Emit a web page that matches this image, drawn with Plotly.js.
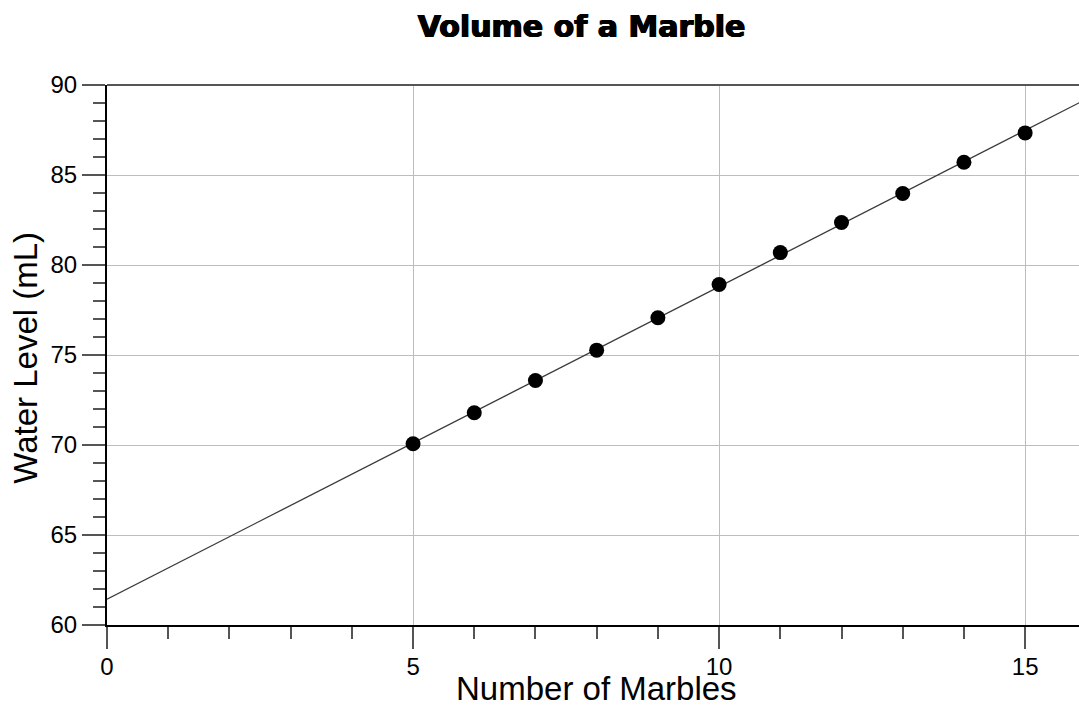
<!DOCTYPE html>
<html>
<head>
<meta charset="utf-8">
<script src="https://cdn.plot.ly/plotly-3.0.1.min.js"></script>
<style>
  html, body { margin: 0; padding: 0; background: #fff; }
  #chart { width: 1079px; height: 709px; }
</style>
</head>
<body>
<div id="chart"></div>
<script>
// Marbles dropped into the cylinder and the water level read after each
const marbles = [5, 6, 7, 8, 9, 10, 11, 12, 13, 14, 15];
const waterLevel = [70.07, 71.79, 73.58, 75.27, 77.07, 78.92, 80.69, 82.36, 83.97, 85.71, 87.34];

const xTickVals = [0, 5, 10, 15];
const yTickVals = [60, 65, 70, 75, 80, 85, 90];

// Least-squares line through the measurements
function linearFit(xs, ys) {
  const n = xs.length;
  const mx = xs.reduce((a, b) => a + b, 0) / n;
  const my = ys.reduce((a, b) => a + b, 0) / n;
  let sxy = 0, sxx = 0;
  for (let i = 0; i < n; i++) {
    sxy += (xs[i] - mx) * (ys[i] - my);
    sxx += (xs[i] - mx) * (xs[i] - mx);
  }
  const slope = sxy / sxx;
  return { slope: slope, intercept: my - slope * mx };
}
const fit = linearFit(marbles, waterLevel);
const fitX = [0, 17];
const fitY = fitX.map(x => fit.intercept + fit.slope * x);

const tickFont = { family: 'Liberation Sans, Arial, sans-serif', size: 24, color: '#000' };
const titleFont = { family: 'Liberation Sans, Arial, sans-serif', size: 33, color: '#000' };

const traces = [
  {
    x: fitX, y: fitY, mode: 'lines', type: 'scatter',
    line: { color: '#3a3a3a', width: 1.3 },
    hoverinfo: 'skip', showlegend: false
  },
  {
    x: marbles, y: waterLevel, mode: 'markers', type: 'scatter',
    marker: { color: '#000', size: 15, line: { width: 0 } },
    showlegend: false
  }
];

const layout = {
  width: 1079, height: 709,
  paper_bgcolor: '#fff', plot_bgcolor: '#fff',
  margin: { l: 107, r: 0, t: 85, b: 84, pad: 0 },
  title: {
    text: 'Volume of a Marble',
    font: { family: 'DejaVu Sans, sans-serif', size: 30, color: '#000', weight: 'bold',
            shadow: '0.7px 0 0 #000, -0.7px 0 0 #000, 0 0.4px 0 #000' },
    xref: 'container', x: 0.539, xanchor: 'center',
    yref: 'container', y: 0.963, yanchor: 'middle'
  },
  xaxis: {
    range: [0, 15.88],
    tickmode: 'array', tickvals: xTickVals,
    ticks: 'outside', ticklen: 22, tickwidth: 2, tickcolor: '#555',
    tickfont: tickFont, ticklabelstandoff: -3,
    showline: true, linecolor: '#000', linewidth: 2,
    showgrid: true, gridcolor: '#bdbdbd', gridwidth: 1,
    zeroline: false, automargin: false,
    minor: { dtick: 1, tick0: 0, ticks: 'outside', ticklen: 12, tickwidth: 2, tickcolor: '#555', showgrid: false }
  },
  yaxis: {
    range: [60, 90],
    tickmode: 'array', tickvals: yTickVals,
    ticks: 'outside', ticklen: 23, tickwidth: 2, tickcolor: '#555',
    tickfont: tickFont,
    showline: true, linecolor: '#000', linewidth: 2,
    showgrid: true, gridcolor: '#bdbdbd', gridwidth: 1,
    zeroline: false, automargin: false,
    minor: { dtick: 1, tick0: 60, ticks: 'outside', ticklen: 12, tickwidth: 2, tickcolor: '#555', showgrid: false }
  },
  annotations: [
    { text: 'Number of Marbles', font: titleFont, showarrow: false, borderpad: 0,
      xref: 'paper', yref: 'paper', x: 0.504, y: 0, xanchor: 'center', yanchor: 'bottom', yshift: -83 },
    { text: 'Water Level (mL)', font: titleFont, showarrow: false, textangle: -90,
      xref: 'paper', yref: 'paper', x: -0.0833, y: 0.495, xanchor: 'center', yanchor: 'middle' }
  ],
  shapes: [
    { type: 'line', xref: 'paper', yref: 'paper', x0: 0, x1: 1, y0: 1, y1: 1,
      line: { color: '#555', width: 2 } }
  ]
};

Plotly.newPlot('chart', traces, layout, { displayModeBar: false, staticPlot: true });
</script>
</body>
</html>
